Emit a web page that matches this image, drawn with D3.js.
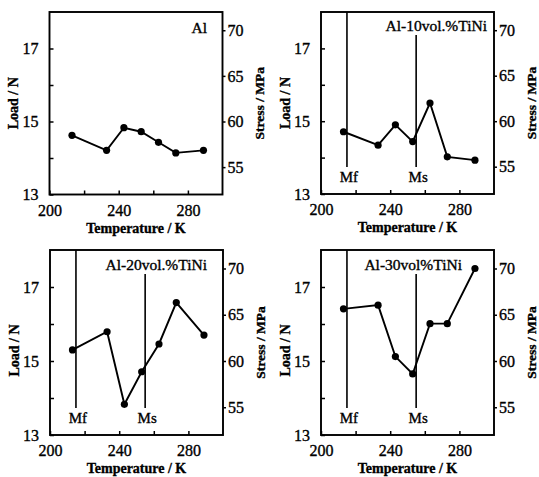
<!DOCTYPE html>
<html>
<head>
<meta charset="utf-8">
<script src="https://cdn.jsdelivr.net/npm/d3@7"></script>
<style>
  body { margin: 0; background: #fff; }
  svg { display: block; }
  text { font-family: "Liberation Serif", "Times New Roman", serif; fill: #000;
         stroke: #000; stroke-width: 0.35px; }
</style>
</head>
<body>
<svg id="chart" width="539" height="477"></svg>
<script>
// Test temperatures (K) shared by every alloy
const temperatures = [213, 233, 243, 253, 263, 273, 289];

// Load (N) measured at each temperature
const loadAl     = [14.62, 14.21, 14.83, 14.72, 14.43, 14.14, 14.21];
const loadTiNi10 = [14.71, 14.34, 14.90, 14.44, 15.50, 14.02, 13.93];
const loadTiNi20 = [15.30, 15.79, 13.83, 14.71, 15.46, 16.58, 15.70];
const loadTiNi30 = [16.41, 16.51, 15.12, 14.65, 16.01, 16.01, 17.50];

const alloyNames = ["Al", "Al-10vol.%TiNi", "Al-20vol.%TiNi", "Al-30vol%TiNi"];

// Martensite finish / start temperatures (K)
const transformNames = ["Mf", "Ms"];
const transformTemps = [215, 255];

// Axis ticks
const tempDomain = [200, 300];
const tempTicks = [200, 220, 240, 260, 280];
const tempTickLabels = [200, 240, 280];
const loadDomain = [13, 18];
const loadTicks = [13, 14, 15, 16, 17];
const loadTickLabels = [13, 15, 17];
const stressPerLoad = 4;          // MPa per N
const stressTicks = [55, 60, 65, 70];

const series = [loadAl, loadTiNi10, loadTiNi20, loadTiNi30];

// Panel layout: plot box and the alloy label placement
const W = 173;
const layout = [
  { x: 49.5, y: 12,  h: 182.5, labelRight: 15.5, labelBase: 21, lines: false, titleY: 0 },
  { x: 321,  y: 12,  h: 182,   labelRight: 7,    labelBase: 19, lines: true,  titleY: 0 },
  { x: 50,   y: 250, h: 185,   labelRight: 16,   labelBase: 20, lines: true,  titleY: 8 },
  { x: 321,  y: 250, h: 185,   labelRight: 32,   labelBase: 20, lines: true,  titleY: 8 }
];

const svg = d3.select("#chart");

layout.forEach((p, i) => {
  const g = svg.append("g").attr("transform", `translate(${p.x},${p.y})`);
  const x = d3.scaleLinear().domain(tempDomain).range([0, W]);
  const y = d3.scaleLinear().domain(loadDomain).range([p.h, 0]);
  const yS = d3.scaleLinear()
    .domain(loadDomain.map(v => v * stressPerLoad)).range([p.h, 0]);

  // Bottom axis, ticks pointing inward
  const xAxis = g.append("g").attr("transform", `translate(0,${p.h})`)
    .call(d3.axisBottom(x).tickValues(tempTicks).tickSize(-4).tickPadding(10)
      .tickFormat(d => tempTickLabels.includes(d) ? d : ""));
  // Left axis, ticks pointing inward
  const yAxis = g.append("g")
    .call(d3.axisLeft(y).tickValues(loadTicks).tickSize(-4).tickPadding(11)
      .tickFormat(d => loadTickLabels.includes(d) ? d : ""));
  // Right stress axis, ticks pointing outward
  const sAxis = g.append("g").attr("transform", `translate(${W},0)`)
    .call(d3.axisRight(yS).tickValues(stressTicks).tickSize(3).tickPadding(2));

  [xAxis, yAxis, sAxis].forEach(a => {
    a.select(".domain").remove();
    a.selectAll(".tick line").attr("stroke", "#000").attr("stroke-width", 1.5);
    a.selectAll(".tick text").attr("font-size", 16)
      .attr("font-family", "Liberation Serif, serif").attr("fill", "#000");
  });

  // Plot frame
  g.append("rect").attr("width", W).attr("height", p.h)
    .attr("fill", "none").attr("stroke", "#000").attr("stroke-width", 1.9);

  // Alloy label
  g.append("text").attr("x", W - p.labelRight).attr("y", p.labelBase)
    .attr("text-anchor", "end").attr("font-size", 15.5).text(alloyNames[i]);

  // Transformation temperature markers
  if (p.lines) {
    transformTemps.forEach((t, k) => {
      const tx = x(t);
      const top = k === 0 ? 0 : p.labelBase + 4;
      g.append("line").attr("x1", tx).attr("x2", tx)
        .attr("y1", top).attr("y2", p.h - 27)
        .attr("stroke", "#000").attr("stroke-width", 1.6);
      g.append("text").attr("x", tx + 2).attr("y", p.h - 12)
        .attr("text-anchor", "middle").attr("font-size", 15)
        .text(transformNames[k]);
    });
  }

  // Load curve
  const pts = temperatures.map((t, k) => [t, series[i][k]]);
  g.append("path").datum(pts)
    .attr("fill", "none").attr("stroke", "#000").attr("stroke-width", 1.9)
    .attr("d", d3.line().x(d => x(d[0])).y(d => y(d[1])));
  g.selectAll("circle.pt").data(pts).join("circle")
    .attr("class", "pt").attr("cx", d => x(d[0])).attr("cy", d => y(d[1]))
    .attr("r", 3.6).attr("fill", "#000");

  // Axis titles
  g.append("text").attr("x", W / 2).attr("y", p.h + 38)
    .attr("text-anchor", "middle").attr("font-size", 14).attr("font-weight", "bold")
    .text("Temperature / K");
  g.append("text")
    .attr("transform", `translate(-36,${p.h / 2 + p.titleY}) rotate(-90)`)
    .attr("text-anchor", "middle").attr("dy", "0.35em")
    .attr("font-size", 14).attr("font-weight", "bold").text("Load / N");
  g.append("text")
    .attr("transform", `translate(${W + 37},${p.h / 2}) rotate(-90)`)
    .attr("text-anchor", "middle").attr("dy", "0.35em")
    .attr("font-size", 13.5).attr("font-weight", "bold").text("Stress / MPa");
});
</script>
</body>
</html>
